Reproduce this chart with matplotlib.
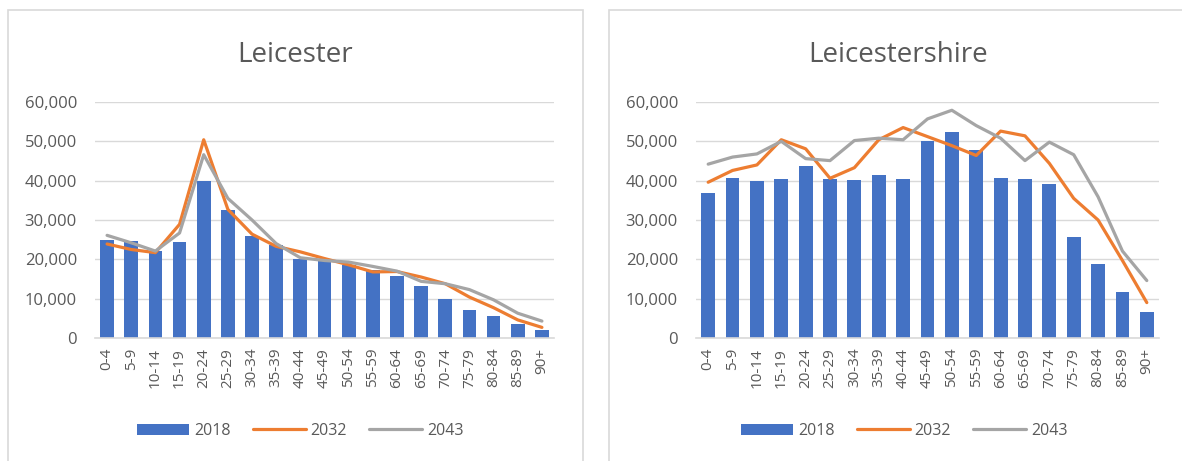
import matplotlib
matplotlib.use("Agg")
import numpy as np
from matplotlib import pyplot as plt
from matplotlib.patches import Rectangle
from matplotlib.ticker import FuncFormatter

ages = ['0-4', '5-9', '10-14', '15-19', '20-24', '25-29', '30-34', '35-39', '40-44',
        '45-49', '50-54', '55-59', '60-64', '65-69', '70-74', '75-79', '80-84', '85-89', '90+']

city_2018 = [24900, 24700, 22100, 24400, 40000, 32500, 26000, 23600, 20000, 19500,
             18500, 17200, 15700, 13200, 10000, 7150, 5600, 3600, 2100]
city_2032 = [23900, 22500, 21700, 28900, 50400, 32700, 26400, 23300, 21900, 20200,
             18600, 16800, 16900, 15500, 13800, 10400, 7700, 4600, 2700]
city_2043 = [26100, 24200, 22100, 26700, 46600, 35500, 30000, 24000, 20400, 19700,
             19300, 18200, 17000, 14400, 13800, 12300, 9700, 6300, 4300]

shire_2018 = [36800, 40800, 40000, 40300, 43800, 40400, 40100, 41400, 40300, 50100,
              52300, 47800, 40600, 40300, 39100, 25600, 18900, 11600, 6500]
shire_2032 = [39600, 42600, 44000, 50400, 48100, 40600, 43300, 50400, 53500, 51200,
              48900, 46400, 52600, 51400, 44400, 35500, 30000, 19700, 9000]
shire_2043 = [44200, 46000, 46800, 50000, 45600, 45100, 50200, 50800, 50400, 55700,
              57900, 54000, 50800, 45100, 49800, 46600, 35900, 22100, 14600]

BLUE = '#4472C4'
ORANGE = '#ED7D31'
GREY = '#A5A5A5'
TEXT = '#595959'
GRID = '#D9D9D9'

W, H = 1182, 461
fig = plt.figure(figsize=(W / 100, H / 100), dpi=100)
plt.rcParams['font.family'] = ['Open Sans', 'DejaVu Sans']

# panel frames (pixel coords)
for x0, x1 in [(8, 583), (609, 1184)]:
    fig.patches.append(Rectangle((x0 / W, -0.05), (x1 - x0) / W, 1 - 10 / H + 0.05,
                                 transform=fig.transFigure, fill=False,
                                 edgecolor=GRID, linewidth=1.2))


def draw_panel(ax_px, title, title_x, legend_x, v18, v32, v43):
    left, right = ax_px
    ax = fig.add_axes([left / W, 1 - 338 / H, (right - left) / W, (338 - 102) / H])
    x = np.arange(len(ages))
    bars = ax.bar(x, v18, width=0.57, color=BLUE, label='2018', zorder=2)
    l32, = ax.plot(x, v32, color=ORANGE, lw=2.3, label='2032', zorder=3, solid_capstyle='round')
    l43, = ax.plot(x, v43, color=GREY, lw=2.3, label='2043', zorder=3, solid_capstyle='round')
    ax.set_xlim(-0.5, len(ages) - 0.5)
    ax.set_ylim(0, 60000)
    ax.set_yticks(range(0, 60001, 10000))
    ax.yaxis.set_major_formatter(FuncFormatter(lambda v, p: f'{int(v):,}'))
    ax.set_xticks(x)
    ax.set_xticklabels(ages, rotation=90)
    ax.grid(axis='y', color=GRID, lw=1, zorder=0)
    for s in ['top', 'right', 'left']:
        ax.spines[s].set_visible(False)
    ax.spines['bottom'].set_color(GRID)
    ax.spines['bottom'].set_linewidth(1.2)
    ax.tick_params(axis='both', length=0, colors=TEXT)
    ax.tick_params(axis='y', pad=13, labelsize=12)
    ax.tick_params(axis='x', pad=7, labelsize=11)
    fig.text(title_x / W, 1 - 62 / H, title, ha='center', va='baseline',
             fontsize=20, color=TEXT)
    fig.legend([bars, l32, l43], ['2018', '2032', '2043'],
               loc='center', bbox_to_anchor=(legend_x / W, 1 - 431 / H),
               ncol=3, frameon=False, fontsize=11.5, labelcolor=TEXT,
               handlelength=3.3, handleheight=0.7, columnspacing=1.4, handletextpad=0.3)
    return ax


draw_panel((95, 554), 'Leicester', 295.5, 300, city_2018, city_2032, city_2043)
draw_panel((696, 1159), 'Leicestershire', 898, 904, shire_2018, shire_2032, shire_2043)

fig.savefig('out.png', dpi=100)
